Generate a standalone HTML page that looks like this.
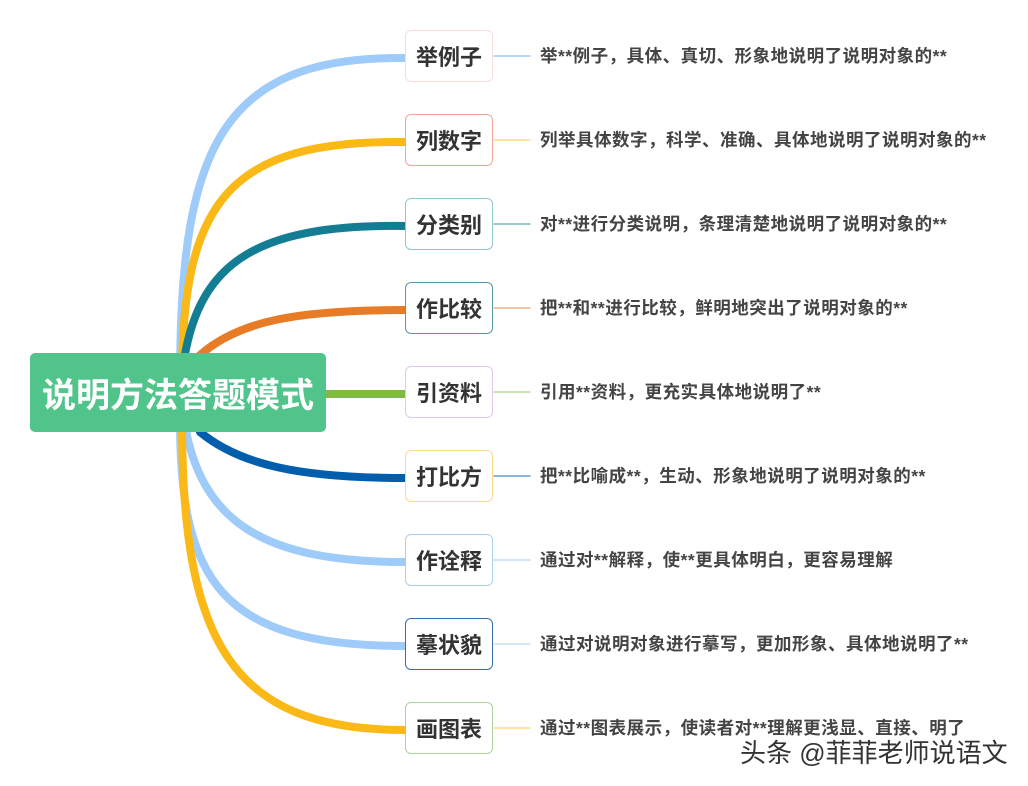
<!DOCTYPE html>
<html><head><meta charset="utf-8"><style>
body{margin:0;width:1028px;height:786px;background:#fff;position:relative;overflow:hidden;font-family:"Liberation Sans","Noto Sans CJK SC",sans-serif}
.n{position:absolute;left:405px;width:88px;height:52px;border:1.5px solid;border-radius:6px;box-sizing:border-box;background:#fff;display:flex;align-items:center;justify-content:center;font-size:22px;font-weight:bold;color:#333}
.t{position:absolute;left:540px;font-size:17.5px;letter-spacing:0.5px;font-weight:bold;color:#444;line-height:22px;white-space:nowrap}
.root{position:absolute;left:30px;top:353px;width:296px;height:79px;background:#50c48a;border-radius:5px;color:#fff;font-size:34px;font-weight:bold;display:flex;align-items:center;justify-content:center}
</style></head><body>
<svg width="1028" height="786" style="position:absolute;left:0;top:0" fill="none" stroke-linecap="round">
<g stroke-width="8">
<path d="M180 380 C180 150 220 56 405 58" stroke="#9ecbf9"/>
<path d="M182 380 C182 200 230 140 405 142" stroke="#fbb917"/>
<path d="M184 360 C200 260 260 224 405 226" stroke="#137d93"/>
<path d="M200 355 C240 320 300 310 405 310" stroke="#e87b25"/>
<path d="M326 394 L405 394" stroke="#7fbb42"/>
<path d="M200 432 C240 465 300 478 405 478" stroke="#005eac"/>
<path d="M184 420 C200 520 260 562 405 562" stroke="#9ecbf9"/>
<path d="M180 420 C180 580 220 646 405 646" stroke="#9ecbf9"/>
<path d="M182 420 C182 640 230 730 405 730" stroke="#fbb917"/>
</g>
<g stroke-width="1.5">
<line x1="494" y1="56" x2="530" y2="56" stroke="#9ecbf9"/>
<line x1="494" y1="140" x2="530" y2="140" stroke="#fdd88a"/>
<line x1="494" y1="224" x2="530" y2="224" stroke="#7ab8c4"/>
<line x1="494" y1="308" x2="530" y2="308" stroke="#f0b08a"/>
<line x1="494" y1="392" x2="530" y2="392" stroke="#b8dc98"/>
<line x1="494" y1="476" x2="530" y2="476" stroke="#6a9cd0"/>
<line x1="494" y1="560" x2="530" y2="560" stroke="#c4dff8"/>
<line x1="494" y1="644" x2="530" y2="644" stroke="#c4dff8"/>
<line x1="494" y1="728" x2="530" y2="728" stroke="#fdd88a"/>
</g>
</svg>
<div class="root">说明方法答题模式</div>
<div class="n" style="top:30px;border-color:#fcdada">举例子</div>
<div class="n" style="top:114px;border-color:#f0a59a">列数字</div>
<div class="n" style="top:198px;border-color:#8cc8cc">分类别</div>
<div class="n" style="top:282px;border-color:#5a98a8">作比较</div>
<div class="n" style="top:366px;border-color:#e0c8f0">引资料</div>
<div class="n" style="top:450px;border-color:#fdd88a">打比方</div>
<div class="n" style="top:534px;border-color:#a8d0f0">作诠释</div>
<div class="n" style="top:618px;border-color:#3a6ea8">摹状貌</div>
<div class="n" style="top:702px;border-color:#a8d49a">画图表</div>
<div class="t" style="top:45px">举**例子，具体、真切、形象地说明了说明对象的**</div>
<div class="t" style="top:129px">列举具体数字，科学、准确、具体地说明了说明对象的**</div>
<div class="t" style="top:213px">对**进行分类说明，条理清楚地说明了说明对象的**</div>
<div class="t" style="top:297px">把**和**进行比较，鲜明地突出了说明对象的**</div>
<div class="t" style="top:381px">引用**资料，更充实具体地说明了**</div>
<div class="t" style="top:465px">把**比喻成**，生动、形象地说明了说明对象的**</div>
<div class="t" style="top:549px">通过对**解释，使**更具体明白，更容易理解</div>
<div class="t" style="top:633px">通过对说明对象进行摹写，更加形象、具体地说明了**</div>
<div class="t" style="top:717px">通过**图表展示，使读者对**理解更浅显、直接、明了</div>
<div style="position:absolute;left:740px;top:733px;font-size:26px;color:#333;text-shadow:0 0 2px #fff;white-space:nowrap">头条 @菲菲老师说语文</div>
</body></html>
